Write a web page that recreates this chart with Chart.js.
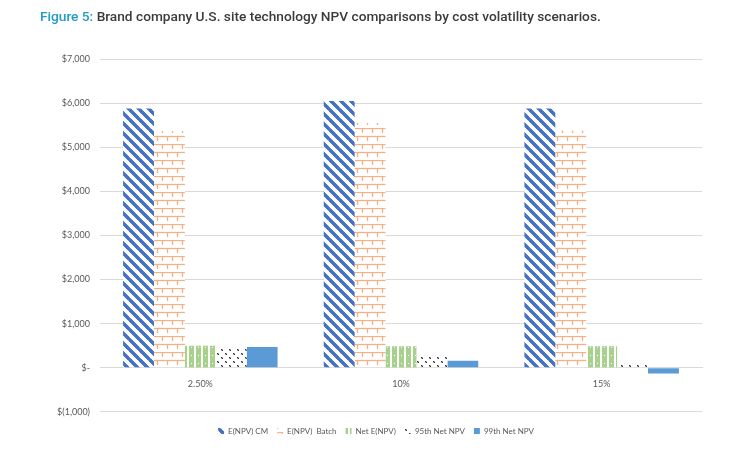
<!DOCTYPE html>
<html>
<head>
<meta charset="utf-8">
<script src="https://cdn.jsdelivr.net/npm/chart.js@4.4.1/dist/chart.umd.min.js"></script>
<style>
  html, body { margin: 0; padding: 0; background: #ffffff; }
  #wrap { position: relative; width: 750px; height: 450px; }
  #title {
    position: absolute; left: 40px; top: 8px;
    font-family: Roboto, "Open Sans", sans-serif; font-weight: 500;
    font-size: 13.7px; color: #3b3b3b; white-space: nowrap;
  }
  #title span { color: #1f9cc4; }
  #c { position: absolute; left: 0; top: 0; }
</style>
</head>
<body>
<div id="wrap">
  <canvas id="c" width="750" height="450"></canvas>
  <div id="title"><span>Figure 5:</span> Brand company U.S. site technology NPV comparisons by cost volatility scenarios.</div>
</div>
<script>
// ---- data ----
const categories = ['2.50%', '10%', '15%'];
const seriesNames = ['E(NPV) CM', 'E(NPV)  Batch', 'Net E(NPV)', '95th Net NPV', '99th Net NPV'];
const cmValues = [5880, 6045, 5880];
const batchValues = [5370, 5550, 5380];
const netValues = [500, 485, 485];
const p95Values = [470, 270, 100];
const p99Values = [470, 160, -130];
const yMin = -1000, yMax = 7000, yStep = 1000;

// ---- patterns ----
function makeTile(w, h, draw) {
  const c = document.createElement('canvas');
  c.width = w; c.height = h;
  const g = c.getContext('2d');
  draw(g, w, h);
  return document.getElementById('c').getContext('2d').createPattern(c, 'repeat');
}
const stripePattern = makeTile(10, 10, (g, w, h) => {
  g.fillStyle = '#ffffff'; g.fillRect(0, 0, w, h);
  g.strokeStyle = '#4472c4'; g.lineWidth = 3.2;
  [[-10, -10], [0, 0], [-10, 0], [0, -10], [10, 0], [0, 10]].forEach(([dx, dy]) => {
    g.beginPath(); g.moveTo(dx, dy); g.lineTo(dx + 20, dy + 20); g.stroke();
  });
});
const brickPattern = makeTile(10, 16, (g, w, h) => {
  g.fillStyle = '#ffffff'; g.fillRect(0, 0, w, h);
  g.strokeStyle = '#f4b183'; g.lineWidth = 1.3;
  g.beginPath(); g.moveTo(0, 0.5); g.lineTo(w, 0.5); g.stroke();
  g.beginPath(); g.moveTo(2.5, 0); g.lineTo(2.5, 5); g.stroke();
  g.beginPath(); g.moveTo(0, 8.5); g.lineTo(w, 8.5); g.stroke();
  g.beginPath(); g.moveTo(7.5, 8); g.lineTo(7.5, 13); g.stroke();
});
const greenPattern = makeTile(7, 8, (g, w, h) => {
  g.fillStyle = '#a9d18e'; g.fillRect(0, 0, w, h);
  g.fillStyle = '#ffffff'; g.fillRect(5, 0, 2, h);
  g.fillRect(2, 3, 1, 1);
});
const dotPattern = makeTile(8, 8, (g, w, h) => {
  g.fillStyle = '#ffffff'; g.fillRect(0, 0, w, h);
  g.fillStyle = '#3a3a3a';
  g.fillRect(1, 1, 1.5, 1.5); g.fillRect(2, 2, 1, 1);
  g.fillRect(5, 5, 1.5, 1.5); g.fillRect(6, 6, 1, 1);
});

const fills = [stripePattern, brickPattern, greenPattern, dotPattern, '#5b9bd5'];
const values = [cmValues, batchValues, netValues, p95Values, p99Values];

function money(v) {
  if (v === 0) return '$-';
  const s = Math.abs(v).toLocaleString('en-US');
  return v < 0 ? '$(' + s + ')' : '$' + s;
}

new Chart(document.getElementById('c'), {
  type: 'bar',
  data: {
    labels: categories,
    datasets: seriesNames.map((name, i) => ({
      label: name,
      data: values[i],
      backgroundColor: fills[i],
      borderWidth: 0,
      categoryPercentage: 0.77,
      barPercentage: 1.0
    }))
  },
  options: {
    responsive: false,
    animation: false,
    devicePixelRatio: 1,
    layout: { padding: { top: 59, right: 48, bottom: 5, left: 50 } },
    plugins: {
      legend: {
        position: 'bottom',
        title: { display: true, text: ' ', font: { size: 1 }, padding: { top: 5, bottom: 0 } },
        labels: {
          boxWidth: 6, boxHeight: 6, padding: 9,
          color: '#595959',
          font: { family: 'Lato, "Open Sans", sans-serif', size: 8 }
        }
      },
      tooltip: { enabled: false }
    },
    scales: {
      x: {
        position: { y: 0 },
        grid: { display: false },
        border: { display: true, color: '#d9d9d9', width: 1 },
        ticks: {
          padding: 3,
          color: '#595959',
          font: { family: 'Lato, "Open Sans", sans-serif', size: 9 }
        }
      },
      y: {
        min: yMin, max: yMax,
        afterFit: (s) => { s.width = 50; },
        grid: { color: '#d9d9d9', drawTicks: false, lineWidth: 1 },
        border: { display: false },
        ticks: {
          stepSize: yStep,
          padding: 10,
          color: '#595959',
          font: { family: 'Lato, "Open Sans", sans-serif', size: 9 },
          callback: (v) => money(v)
        }
      }
    }
  }
});
</script>
</body>
</html>
